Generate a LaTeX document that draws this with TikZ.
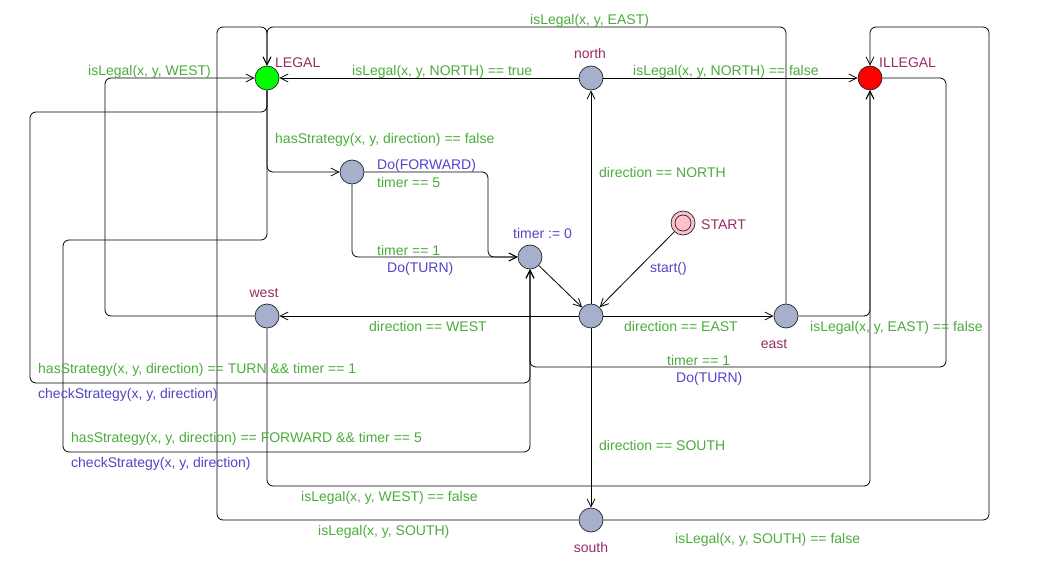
\documentclass[tikz,border=0pt]{standalone}
\usepackage{fontspec}
\setmainfont{Liberation Sans}
\usetikzlibrary{arrows.meta}
\definecolor{cguard}{RGB}{75,172,60}
\definecolor{cupd}{RGB}{80,70,200}
\definecolor{cname}{RGB}{150,45,100}
\definecolor{clocfill}{RGB}{166,175,204}
\definecolor{cpink}{RGB}{255,192,203}
\begin{document}
\begin{tikzpicture}[x=1pt,y=-1pt,
  loc/.style={circle,draw=black!85,line width=0.7pt,minimum size=24pt,inner sep=0pt,fill=clocfill},
  edge/.style={draw=black,line width=0.8pt,rounded corners=6pt,-{Straight Barb[length=8pt,width=8pt]}},
  lbl/.style={anchor=base west,inner sep=0pt,font=\fontsize{14pt}{16pt}\selectfont},
  grd/.style={lbl,text=cguard},
  upd/.style={lbl,text=cupd},
  nm/.style={lbl,text=cname},
  nmc/.style={nm,anchor=base}]
\fill[white] (0,0) rectangle (1039,567);
\useasboundingbox (0,0) rectangle (1039,567);

% locations
\node[loc,fill=green] (LEGAL) at (267,78) {};
\node[loc] (north) at (591,78) {};
\node[loc,fill=red] (ILLEGAL) at (870,78) {};
\node[loc] (S) at (352,172) {};
\node[loc] (T) at (530,257) {};
\node[loc,fill=cpink] (START) at (683,223) {};
\draw[black!85,line width=0.7pt] (START.center) circle (8);
\node[loc] (C) at (591,316) {};
\node[loc] (west) at (267,316) {};
\node[loc] (east) at (786,316) {};
\node[loc] (south) at (591,520) {};

% location names
\node[nm] (nLEGAL) at (275,68) {LEGAL};
\node[nmc] (nnorth) at (590,59) {north};
\node[nm] (nILLEGAL) at (879,68) {ILLEGAL};
\node[nm] (nSTART) at (701,229) {START};
\node[nmc] (nwest) at (264,297) {west};
\node[nmc] (neast) at (774,348) {east};
\node[nmc] (nsouth) at (591,552) {south};

% edges
\draw[edge] (north) -- (LEGAL);
\draw[edge] (north) -- (ILLEGAL);
\draw[edge] (C) -- (north);
\draw[edge] (C) -- (west);
\draw[edge] (C) -- (east);
\draw[edge] (C) -- (south);
\draw[edge] (START) -- (C);
\draw[edge] (T) -- (C);
\draw[edge] (LEGAL) |- (S);
\draw[edge] (S) -- (488,172) -- (488,257) -- (T);
\draw[edge] (S) |- (T);
\draw[edge] (west) -- (105,316) -- (105,78) -- (LEGAL);
\draw[edge] (west) -- (267,486) -- (870,486) -- (ILLEGAL);
\draw[edge] (east) -- (786,27) -- (267,27) -- (LEGAL);
\draw[edge] (south) -- (217,520) -- (217,27) -- (267,27) -- (LEGAL);
\draw[edge] (east) -- (870,316) -- (ILLEGAL);
\draw[edge] (south) -- (989,520) -- (989,27) -- (870,27) -- (ILLEGAL);
\draw[edge] (ILLEGAL) -- (946,78) -- (946,367) -- (530,367) -- (T);
\draw[edge] (LEGAL) -- (267,112) -- (30,112) -- (30,383) -- (530,383) -- (T);
\draw[edge] (LEGAL) -- (267,240) -- (63,240) -- (63,452) -- (530,452) -- (T);

% guards
\node[grd] (g1) at (88,76) {isLegal(x, y, WEST)};
\node[grd] (g2) at (352,76) {isLegal(x, y, NORTH) == true};
\node[grd] (g3) at (530,25) {isLegal(x, y, EAST)};
\node[grd] (g4) at (633,76) {isLegal(x, y, NORTH) == false};
\node[grd] (g5) at (275,144) {hasStrategy(x, y, direction) == false};
\node[grd] (g6) at (377,187) {timer == 5};
\node[grd] (g7) at (377,255) {timer == 1};
\node[grd] (g8) at (599,178) {direction == NORTH};
\node[grd] (g9) at (369,331) {direction == WEST};
\node[grd] (g10) at (624,331) {direction == EAST};
\node[grd] (g11) at (810,331) {isLegal(x, y, EAST) == false};
\node[grd] (g12) at (667,365) {timer == 1};
\node[grd] (g13) at (38,373) {hasStrategy(x, y, direction) == TURN \&\& timer == 1};
\node[grd] (g14) at (71,442) {hasStrategy(x, y, direction) == FORWARD \&\& timer == 5};
\node[grd] (g15) at (599,450) {direction == SOUTH};
\node[grd] (g16) at (301,501) {isLegal(x, y, WEST) == false};
\node[grd] (g17) at (318,535) {isLegal(x, y, SOUTH)};
\node[grd] (g18) at (675,543) {isLegal(x, y, SOUTH) == false};

% updates
\node[upd] (u1) at (377,170) {Do(FORWARD)};
\node[upd] (u2) at (387,272) {Do(TURN)};
\node[upd] (u3) at (513,238) {timer := 0};
\node[upd] (u4) at (650,272) {start()};
\node[upd] (u5) at (676,382) {Do(TURN)};
\node[upd] (u6) at (38,398) {checkStrategy(x, y, direction)};
\node[upd] (u7) at (71,467) {checkStrategy(x, y, direction)};
\end{tikzpicture}
\end{document}
